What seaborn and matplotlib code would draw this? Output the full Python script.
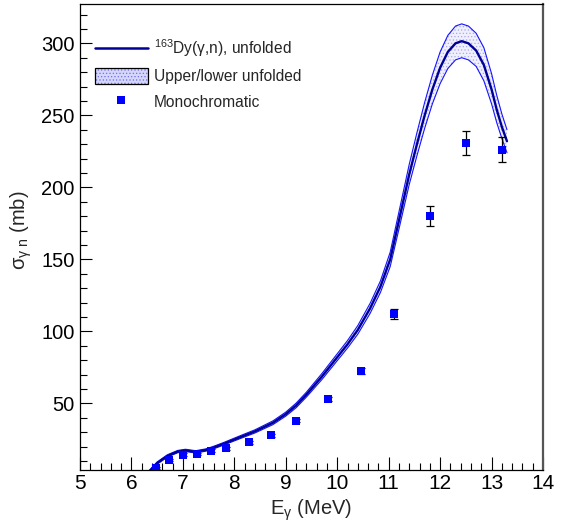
import numpy as np
import pandas as pd
import matplotlib
matplotlib.use("Agg")
import matplotlib.pyplot as plt
import seaborn as sns
from matplotlib.lines import Line2D
from matplotlib.patches import Patch
from matplotlib.legend_handler import HandlerTuple
from matplotlib.ticker import MultipleLocator

# unfolded cross section
e_curve = [6.33, 6.5, 6.7, 6.9, 7.05, 7.25, 7.45, 7.6, 7.8, 8.1, 8.4, 8.75, 9.0, 9.2,
           9.4, 9.7, 10.0, 10.2, 10.4, 10.64, 10.84, 11.03, 11.2, 11.4, 11.55, 11.7,
           11.85, 12.0, 12.15, 12.3, 12.42, 12.55, 12.7, 12.85, 13.0, 13.1, 13.2, 13.3]
central = [2.0, 8.5, 13.5, 16.5, 17.3, 16.3, 17.6, 19.3, 22.0, 26.3, 30.5, 36.5, 42.5, 48.5,
           56.0, 68.5, 82.0, 91.0, 101.0, 116.0, 131.0, 150.0, 177.0, 209.0, 230.0, 250.0,
           268.0, 283.0, 294.0, 300.0, 301.5, 300.0, 295.0, 285.0, 268.0, 254.0, 242.0, 232.0]
upper = [2.8, 9.3, 14.3, 17.3, 18.1, 17.1, 18.4, 20.2, 22.9, 27.3, 31.6, 37.8, 43.9, 50.1,
         57.7, 70.6, 84.4, 93.6, 104.0, 119.5, 135.0, 155.0, 183.0, 216.0, 238.0, 259.0,
         278.0, 294.0, 305.5, 312.0, 313.5, 312.0, 307.0, 297.0, 279.0, 264.0, 251.0, 240.0]
lower = [1.2, 7.7, 12.7, 15.7, 16.5, 15.5, 16.8, 18.4, 21.1, 25.3, 29.4, 35.2, 41.1, 46.9,
         54.3, 66.4, 79.6, 88.4, 98.0, 112.5, 127.0, 145.0, 171.0, 202.0, 222.0, 241.0,
         258.0, 272.0, 282.5, 288.5, 290.0, 288.5, 284.0, 274.0, 258.0, 245.0, 234.0, 224.0]

# monochromatic measurements
mono_e = [6.47, 6.73, 7.00, 7.27, 7.55, 7.83, 8.28, 8.72, 9.20, 9.82, 10.46, 11.11, 11.80, 12.50, 13.21]
mono_xs = [5.3, 10.6, 14.4, 14.6, 17.1, 18.7, 22.9, 27.8, 38.0, 53.0, 72.4, 111.8, 180.3, 230.6, 226.2]
mono_err = [0.6, 0.7, 0.8, 0.8, 0.9, 0.9, 1.0, 1.1, 1.3, 1.6, 2.3, 3.5, 7.0, 8.5, 8.9]

sns.set_theme(style="ticks")
plt.rcParams['font.family'] = ['Liberation Sans', 'DejaVu Sans']
plt.rcParams['mathtext.fontset'] = 'custom'
plt.rcParams['mathtext.rm'] = 'Liberation Sans'
plt.rcParams['mathtext.it'] = 'Liberation Sans'
plt.rcParams['mathtext.bf'] = 'Liberation Sans:bold'
plt.rcParams['hatch.linewidth'] = 0.5

fig = plt.figure(figsize=(5.7, 5.22), dpi=100)
ax = fig.add_axes([80 / 570, 52 / 522, 463 / 570, 466 / 522])

curve = pd.DataFrame({'E': e_curve, 'central': central, 'upper': upper, 'lower': lower})

# band between upper and lower
ax.fill_between(curve['E'], curve['lower'], curve['upper'], facecolor='#f0f0fd',
                edgecolor='#a8a8ee', hatch='.....', linewidth=0, zorder=1)
for col in ['upper', 'lower']:
    sns.lineplot(data=curve, x='E', y=col, color='#1414ff', linewidth=0.8,
                 sort=False, estimator=None, ax=ax, zorder=2)
sns.lineplot(data=curve, x='E', y='central', color='#000096', linewidth=1.7,
             sort=False, estimator=None, ax=ax, zorder=3)

ax.errorbar(mono_e, mono_xs, yerr=mono_err, fmt='none', ecolor='black',
            elinewidth=0.9, capsize=3, capthick=0.9, zorder=4)
sns.scatterplot(x=mono_e, y=mono_xs, marker='s', s=34, color='#0000ff',
                edgecolor='none', ax=ax, zorder=5)

ax.set_xlim(5, 14)
ax.set_ylim(3.7, 327.3)
ax.xaxis.set_major_locator(MultipleLocator(1))
ax.xaxis.set_minor_locator(MultipleLocator(0.2))
ax.yaxis.set_major_locator(MultipleLocator(50))
ax.yaxis.set_minor_locator(MultipleLocator(10))
ax.tick_params(axis='both', which='both', direction='in', colors='black', width=0.8)
ax.tick_params(axis='x', which='major', length=9.5, labelsize=15, pad=3)
ax.tick_params(axis='x', which='minor', length=5)
ax.tick_params(axis='y', which='major', length=8.5, labelsize=14.5, pad=4)
ax.tick_params(axis='y', which='minor', length=5)

for s in ['left', 'bottom', 'top']:
    ax.spines[s].set_color('black')
    ax.spines[s].set_linewidth(0.9)
ax.spines['right'].set_color('#555555')
ax.spines['right'].set_linewidth(1.6)

ax.set_xlabel(r'E$_{\gamma}$ (MeV)', fontsize=14.5)
ax.set_ylabel(r'$\sigma_{\gamma\ n}$ (mb)', fontsize=14.5)
ax.xaxis.set_label_coords(0.5, -0.058)
ax.yaxis.set_label_coords(-0.10, 0.515)

h_line = Line2D([], [], color='#000096', linewidth=1.8)
h_band = (Patch(facecolor='#d6d6fa', edgecolor='#6f6fee', hatch='.....', linewidth=0),
          Patch(fill=False, edgecolor='black', linewidth=0.9))
h_pts = Line2D([], [], linestyle='none', marker='s', markersize=5.6,
               color='#0000ff', markeredgewidth=0)
ax.legend([h_line, h_band, h_pts],
          [r'$^{163}$Dy(γ,n), unfolded', 'Upper/lower unfolded', 'Monochromatic'],
          handler_map={tuple: HandlerTuple(ndivide=1, pad=0)},
          loc='upper left', bbox_to_anchor=(0.032, 0.928), frameon=False,
          fontsize=11.2, handlelength=3.4, handleheight=1.2, handletextpad=0.4,
          labelspacing=0.58, borderpad=0, borderaxespad=0)

fig.savefig('out.png', dpi=100)
